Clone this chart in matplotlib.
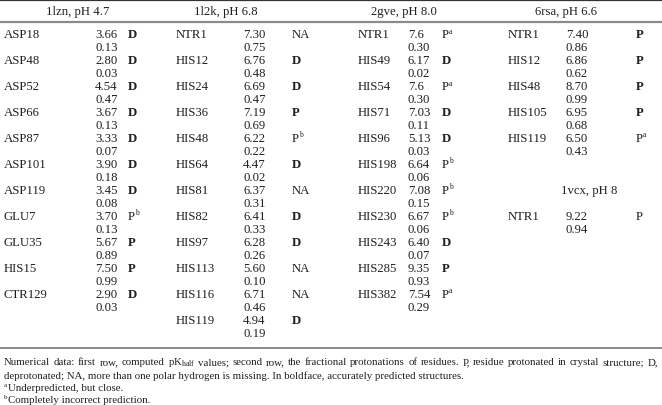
import matplotlib
matplotlib.use("Agg")
import matplotlib.pyplot as plt

plt.rcParams['font.family'] = ['Liberation Serif', 'DejaVu Serif']
plt.rcParams['mathtext.fontset'] = 'custom'
plt.rcParams['mathtext.rm'] = 'Liberation Serif'
plt.rcParams['mathtext.it'] = 'Liberation Serif:italic'

# table data, one block per structure
headers = ['1lzn, pH 4.7', '1l2k, pH 6.8', '2gve, pH 8.0', '6rsa, pH 6.6']

res_1lzn = ['ASP18', 'ASP48', 'ASP52', 'ASP66', 'ASP87', 'ASP101', 'ASP119', 'GLU7', 'GLU35', 'HIS15', 'CTR129']
pk_1lzn = ['3.66', '2.80', '4.54', '3.67', '3.33', '3.90', '3.45', '3.70', '5.67', '7.50', '2.90']
fr_1lzn = ['0.13', '0.03', '0.47', '0.13', '0.07', '0.18', '0.08', '0.13', '0.89', '0.99', '0.03']
st_1lzn = ['D', 'D', 'D', 'D', 'D', 'D', 'D', 'Pb', 'P', 'P', 'D']
bold_1lzn = [1, 1, 1, 1, 1, 1, 1, 0, 1, 1, 1]

res_1l2k = ['NTR1', 'HIS12', 'HIS24', 'HIS36', 'HIS48', 'HIS64', 'HIS81', 'HIS82', 'HIS97', 'HIS113', 'HIS116', 'HIS119']
pk_1l2k = ['7.30', '6.76', '6.69', '7.19', '6.22', '4.47', '6.37', '6.41', '6.28', '5.60', '6.71', '4.94']
fr_1l2k = ['0.75', '0.48', '0.47', '0.69', '0.22', '0.02', '0.31', '0.33', '0.26', '0.10', '0.46', '0.19']
st_1l2k = ['NA', 'D', 'D', 'P', 'Pb', 'D', 'NA', 'D', 'D', 'NA', 'NA', 'D']
bold_1l2k = [0, 1, 1, 1, 0, 1, 0, 1, 1, 0, 0, 1]

res_2gve = ['NTR1', 'HIS49', 'HIS54', 'HIS71', 'HIS96', 'HIS198', 'HIS220', 'HIS230', 'HIS243', 'HIS285', 'HIS382']
pk_2gve = ['7.6', '6.17', '7.6', '7.03', '5.13', '6.64', '7.08', '6.67', '6.40', '9.35', '7.54']
fr_2gve = ['0.30', '0.02', '0.30', '0.11', '0.03', '0.06', '0.15', '0.06', '0.07', '0.93', '0.29']
st_2gve = ['Pa', 'D', 'Pa', 'D', 'D', 'Pb', 'Pb', 'Pb', 'D', 'P', 'Pa']
bold_2gve = [0, 1, 0, 1, 1, 0, 0, 0, 1, 1, 0]

res_6rsa = ['NTR1', 'HIS12', 'HIS48', 'HIS105', 'HIS119']
pk_6rsa = ['7.40', '6.86', '8.70', '6.95', '6.50']
fr_6rsa = ['0.86', '0.62', '0.99', '0.68', '0.43']
st_6rsa = ['P', 'P', 'P', 'P', 'Pa']
bold_6rsa = [1, 1, 1, 1, 0]

sub_header = '1vcx, pH 8'
res_1vcx = ['NTR1']
pk_1vcx = ['9.22']
fr_1vcx = ['0.94']
st_1vcx = ['P']
bold_1vcx = [0]

note1 = r'Numerical data: first row, computed pK$_{\mathrm{half}}$ values; second row, the fractional protonations of residues. P, residue protonated in crystal structure; D,'
note2 = 'deprotonated; NA, more than one polar hydrogen is missing. In boldface, accurately predicted structures.'
note_a = 'Underpredicted, but close.'
note_b = 'Completely incorrect prediction.'

W, H = 662, 406
fig = plt.figure(figsize=(W / 100, H / 100), dpi=100)
ax = fig.add_axes([0, 0, 1, 1])
ax.set_xlim(0, W)
ax.set_ylim(H, 0)
ax.axis('off')

tc = '#231f20'
fs = 9.2

col_x = [(4, 95, 128), (176, 243, 292), (358, 408, 442), (508, 566, 636)]
head_x = [78, 226, 404, 566]
y0, dy = 35, 13


def block(cx, res, pk, fr, st, bold, start=0):
    xn, xv, xs = cx
    for i in range(len(res)):
        y = y0 + 2 * dy * (i + start)
        ax.text(xn, y, res[i], fontsize=fs, color=tc, va='center')
        ax.text(xv, y, pk[i], fontsize=fs, color=tc, va='center')
        ax.text(xv, y + dy, fr[i], fontsize=fs, color=tc, va='center')
        lab = st[i]
        sup = ''
        if lab in ('Pa', 'Pb'):
            lab, sup = 'P', lab[1]
        ax.text(xs, y, lab, fontsize=fs, color=tc, va='center',
                fontweight='bold' if bold[i] else 'normal')
        if sup:
            ax.text(xs + 7, y - 3.5, sup, fontsize=5.5, color=tc, va='center')


for hx, h in zip(head_x, headers):
    ax.text(hx, 12, h, fontsize=fs, color=tc, ha='center', va='center')

block(col_x[0], res_1lzn, pk_1lzn, fr_1lzn, st_1lzn, bold_1lzn)
block(col_x[1], res_1l2k, pk_1l2k, fr_1l2k, st_1l2k, bold_1l2k)
block(col_x[2], res_2gve, pk_2gve, fr_2gve, st_2gve, bold_2gve)
block(col_x[3], res_6rsa, pk_6rsa, fr_6rsa, st_6rsa, bold_6rsa)
ax.text(589, y0 + 2 * dy * 6, sub_header, fontsize=fs, color=tc, ha='center', va='center')
block(col_x[3], res_1vcx, pk_1vcx, fr_1vcx, st_1vcx, bold_1vcx, start=7)

# rules
ax.plot([0, W], [1.2, 1.2], color='#333333', lw=1.6, solid_capstyle='butt')
ax.plot([0, W], [22.5, 22.5], color='#8a8a8a', lw=1.6, solid_capstyle='butt')
ax.plot([0, W], [349, 349], color='#777777', lw=1.2, solid_capstyle='butt')

# footnotes, first line justified to full width
nfs = 7.8
renderer = fig.canvas.get_renderer()
words = note1.split(' ')
objs = [ax.text(0, 363, w, fontsize=nfs, color=tc, va='center') for w in words]
widths = [o.get_window_extent(renderer).width for o in objs]
gap = (W - 4 - 4 - sum(widths)) / (len(words) - 1)
x = 4
for o, w in zip(objs, widths):
    o.set_x(x)
    x += w + gap

ax.text(4, 376, note2, fontsize=nfs, color=tc, va='center')
ax.text(4, 386, 'a', fontsize=5, color=tc, va='center')
ax.text(8, 389, note_a, fontsize=nfs, color=tc, va='center')
ax.text(4, 398, 'b', fontsize=5, color=tc, va='center')
ax.text(8, 401, note_b, fontsize=nfs, color=tc, va='center')

fig.savefig('out.png', dpi=100, facecolor='white')
